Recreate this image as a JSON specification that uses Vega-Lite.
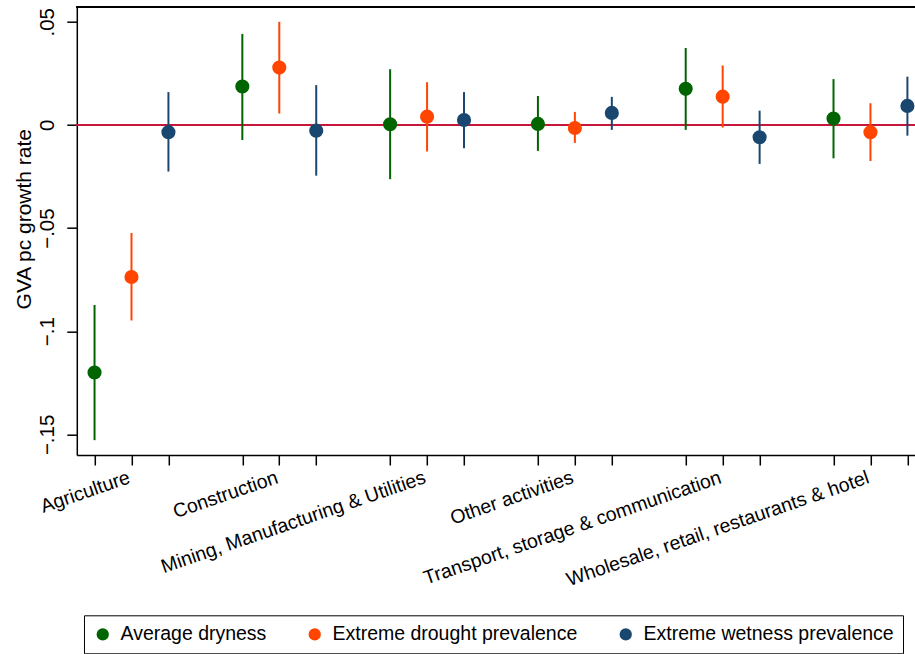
{
  "$schema": "https://vega.github.io/schema/vega-lite/v6.json",
  "width": 838,
  "height": 448.3,
  "autosize": {"type": "none"},
  "padding": {"left": 76.8, "top": 6.7, "right": 0, "bottom": 199},
  "config": {
    "font": "Liberation Sans",
    "view": {"stroke": null},
    "axis": {"grid": false},
    "legend": {
      "orient": "none",
      "legendX": 7.2,
      "legendY": 608.6,
      "direction": "horizontal",
      "columns": 3,
      "symbolType": "circle",
      "symbolSize": 150,
      "symbolStrokeWidth": 0,
      "symbolOpacity": 1,
      "labelFontSize": 19.5,
      "labelColor": "#000000",
      "labelOffset": 8,
      "columnPadding": 38,
      "padding": 9,
      "strokeColor": "#000000",
      "labelLimit": 400
    }
  },
  "data": {
    "values": [
      {"sector": "Agriculture", "series": "Average dryness", "slot": 0, "est": -0.1200, "lo": -0.1528, "hi": -0.0873},
      {"sector": "Agriculture", "series": "Extreme drought prevalence", "slot": 1, "est": -0.0737, "lo": -0.0948, "hi": -0.0524},
      {"sector": "Agriculture", "series": "Extreme wetness prevalence", "slot": 2, "est": -0.0035, "lo": -0.0226, "hi": 0.0159},
      {"sector": "Construction", "series": "Average dryness", "slot": 4, "est": 0.0186, "lo": -0.0073, "hi": 0.0441},
      {"sector": "Construction", "series": "Extreme drought prevalence", "slot": 5, "est": 0.0278, "lo": 0.0055, "hi": 0.0500},
      {"sector": "Construction", "series": "Extreme wetness prevalence", "slot": 6, "est": -0.0028, "lo": -0.0246, "hi": 0.0193},
      {"sector": "Mining, Manufacturing & Utilities", "series": "Average dryness", "slot": 8, "est": 0.0003, "lo": -0.0263, "hi": 0.0270},
      {"sector": "Mining, Manufacturing & Utilities", "series": "Extreme drought prevalence", "slot": 9, "est": 0.0040, "lo": -0.0129, "hi": 0.0207},
      {"sector": "Mining, Manufacturing & Utilities", "series": "Extreme wetness prevalence", "slot": 10, "est": 0.0024, "lo": -0.0113, "hi": 0.0159},
      {"sector": "Other activities", "series": "Average dryness", "slot": 12, "est": 0.0005, "lo": -0.0126, "hi": 0.0140},
      {"sector": "Other activities", "series": "Extreme drought prevalence", "slot": 13, "est": -0.0015, "lo": -0.0087, "hi": 0.0063},
      {"sector": "Other activities", "series": "Extreme wetness prevalence", "slot": 14, "est": 0.0058, "lo": -0.0024, "hi": 0.0136},
      {"sector": "Transport, storage & communication", "series": "Average dryness", "slot": 16, "est": 0.0175, "lo": -0.0024, "hi": 0.0373},
      {"sector": "Transport, storage & communication", "series": "Extreme drought prevalence", "slot": 17, "est": 0.0137, "lo": -0.0013, "hi": 0.0288},
      {"sector": "Transport, storage & communication", "series": "Extreme wetness prevalence", "slot": 18, "est": -0.0060, "lo": -0.0189, "hi": 0.0069},
      {"sector": "Wholesale, retail, restaurants & hotel", "series": "Average dryness", "slot": 20, "est": 0.0031, "lo": -0.0162, "hi": 0.0222},
      {"sector": "Wholesale, retail, restaurants & hotel", "series": "Extreme drought prevalence", "slot": 21, "est": -0.0036, "lo": -0.0175, "hi": 0.0105},
      {"sector": "Wholesale, retail, restaurants & hotel", "series": "Extreme wetness prevalence", "slot": 22, "est": 0.0092, "lo": -0.0052, "hi": 0.0234}
    ]
  },
  "layer": [
    {
      "mark": {"type": "rule", "color": "#C8153A", "strokeWidth": 2},
      "encoding": {"y": {"datum": 0, "type": "quantitative"}}
    },
    {
      "mark": {"type": "rule", "color": "#000000", "strokeWidth": 1.5},
      "encoding": {"y": {"datum": 0.0573, "type": "quantitative"}}
    },
    {
      "mark": {"type": "rule", "strokeWidth": 2},
      "encoding": {
        "x": {
          "field": "slot",
          "type": "quantitative",
          "scale": {"domain": [-0.48, 22.2], "nice": false, "zero": false},
          "axis": {
            "title": null,
            "values": [0, 1, 2, 4, 5, 6, 8, 9, 10, 12, 13, 14, 16, 17, 18, 20, 21, 22],
            "labelExpr": "datum.value == 1 ? 'Agriculture' : datum.value == 5 ? 'Construction' : datum.value == 9 ? 'Mining, Manufacturing & Utilities' : datum.value == 13 ? 'Other activities' : datum.value == 17 ? 'Transport, storage & communication' : datum.value == 21 ? 'Wholesale, retail, restaurants & hotel' : ''",
            "labelAngle": -19,
            "labelAlign": "right",
            "labelBaseline": "top",
            "labelFontSize": 19.5,
            "labelColor": "#000000",
            "labelPadding": 3,
            "labelOffset": -5.5,
            "labelOverlap": false,
            "labelBound": false,
            "labelFlush": false,
            "labelLimit": 600,
            "tickSize": 10,
            "tickWidth": 1.5,
            "tickColor": "#000000",
            "domainColor": "#000000",
            "domainWidth": 1.5
          }
        },
        "y": {
          "field": "lo",
          "type": "quantitative",
          "scale": {"domain": [-0.160, 0.0573], "nice": false, "zero": false},
          "axis": {
            "title": "GVA pc growth rate",
            "titleFontSize": 21,
            "titleFontWeight": "normal",
            "titleColor": "#000000",
            "titlePadding": 3,
            "titleY": 212,
            "values": [-0.15, -0.1, -0.05, 0, 0.05],
            "labelExpr": "replace(format(datum.value, '.2~f'), '0.', '.')",
            "labelAngle": -90,
            "labelAlign": "center",
            "labelBaseline": "bottom",
            "labelFontSize": 20.5,
            "labelColor": "#000000",
            "labelPadding": 9.5,
            "tickSize": 10,
            "tickWidth": 1.5,
            "tickColor": "#000000",
            "domainColor": "#000000",
            "domainWidth": 1.5
          }
        },
        "y2": {"field": "hi"},
        "color": {
          "field": "series",
          "type": "nominal",
          "title": null,
          "scale": {
            "domain": ["Average dryness", "Extreme drought prevalence", "Extreme wetness prevalence"],
            "range": ["#006400", "#FF4500", "#1A476F"]
          }
        }
      }
    },
    {
      "mark": {"type": "point", "filled": true, "shape": "circle", "size": 200, "opacity": 1},
      "encoding": {
        "x": {"field": "slot", "type": "quantitative"},
        "y": {"field": "est", "type": "quantitative"},
        "color": {"field": "series", "type": "nominal", "title": null}
      }
    }
  ]
}
